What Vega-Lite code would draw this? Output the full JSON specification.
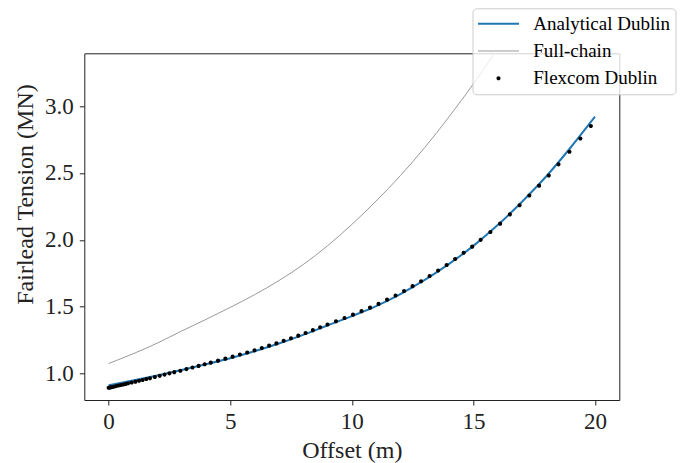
{
  "$schema": "https://vega.github.io/schema/vega-lite/v6.json",
  "width": 535,
  "height": 346.7,
  "autosize": {"type": "none"},
  "padding": {"left": 84.3, "top": 53.3, "right": 64.7, "bottom": 63},
  "background": "white",
  "config": {
    "font": "Liberation Serif",
    "view": {"stroke": "#222222", "strokeWidth": 1},
    "axis": {
      "grid": false,
      "domain": false,
      "tickColor": "#222222",
      "tickSize": 5,
      "tickWidth": 1,
      "labelFont": "Liberation Serif",
      "labelFontSize": 23,
      "labelColor": "#222222",
      "titleFont": "Liberation Serif",
      "titleFontSize": 24,
      "titleFontWeight": "normal",
      "titleColor": "#222222"
    },
    "legend": {
      "labelFont": "Liberation Serif",
      "labelFontSize": 19,
      "labelColor": "#000000",
      "labelOffset": 14.3,
      "padding": 5.5,
      "rowPadding": 7.2,
      "clipHeight": 20,
      "symbolSize": 1681,
      "symbolStrokeWidth": 0,
      "symbolOpacity": 1,
      "fillColor": "rgba(255,255,255,0.8)",
      "strokeColor": "#cccccc",
      "cornerRadius": 4
    }
  },
  "datasets": {
    "analytical": [
      {"offset": 0, "tension": 0.912},
      {"offset": 1, "tension": 0.948},
      {"offset": 2, "tension": 0.986},
      {"offset": 3, "tension": 1.027},
      {"offset": 4, "tension": 1.07},
      {"offset": 5, "tension": 1.115},
      {"offset": 6, "tension": 1.167},
      {"offset": 7, "tension": 1.225},
      {"offset": 8, "tension": 1.29},
      {"offset": 9, "tension": 1.36},
      {"offset": 10, "tension": 1.43},
      {"offset": 11, "tension": 1.505},
      {"offset": 12, "tension": 1.595},
      {"offset": 13, "tension": 1.7},
      {"offset": 14, "tension": 1.82},
      {"offset": 15, "tension": 1.955},
      {"offset": 16, "tension": 2.11},
      {"offset": 17, "tension": 2.285},
      {"offset": 18, "tension": 2.475},
      {"offset": 19, "tension": 2.69},
      {"offset": 20, "tension": 2.92}
    ],
    "fullchain": [
      {"offset": 0, "tension": 1.076},
      {"offset": 1, "tension": 1.148},
      {"offset": 2, "tension": 1.228},
      {"offset": 3, "tension": 1.318},
      {"offset": 4, "tension": 1.405},
      {"offset": 5, "tension": 1.495},
      {"offset": 6, "tension": 1.59},
      {"offset": 7, "tension": 1.695},
      {"offset": 8, "tension": 1.815},
      {"offset": 9, "tension": 1.955},
      {"offset": 10, "tension": 2.115},
      {"offset": 11, "tension": 2.29},
      {"offset": 12, "tension": 2.48},
      {"offset": 13, "tension": 2.69},
      {"offset": 14, "tension": 2.92},
      {"offset": 15, "tension": 3.165},
      {"offset": 16, "tension": 3.43},
      {"offset": 17, "tension": 3.71}
    ],
    "flexcom": [
      {"offset": 0, "tension": 0.894, "series": "Flexcom Dublin"},
      {"offset": 0.05, "tension": 0.896, "series": "Flexcom Dublin"},
      {"offset": 0.1, "tension": 0.898, "series": "Flexcom Dublin"},
      {"offset": 0.15, "tension": 0.9, "series": "Flexcom Dublin"},
      {"offset": 0.2, "tension": 0.902, "series": "Flexcom Dublin"},
      {"offset": 0.3, "tension": 0.907, "series": "Flexcom Dublin"},
      {"offset": 0.4, "tension": 0.911, "series": "Flexcom Dublin"},
      {"offset": 0.5, "tension": 0.915, "series": "Flexcom Dublin"},
      {"offset": 0.6, "tension": 0.919, "series": "Flexcom Dublin"},
      {"offset": 0.7, "tension": 0.923, "series": "Flexcom Dublin"},
      {"offset": 0.8, "tension": 0.928, "series": "Flexcom Dublin"},
      {"offset": 0.95, "tension": 0.934, "series": "Flexcom Dublin"},
      {"offset": 1.1, "tension": 0.94, "series": "Flexcom Dublin"},
      {"offset": 1.25, "tension": 0.947, "series": "Flexcom Dublin"},
      {"offset": 1.4, "tension": 0.953, "series": "Flexcom Dublin"},
      {"offset": 1.55, "tension": 0.96, "series": "Flexcom Dublin"},
      {"offset": 1.7, "tension": 0.966, "series": "Flexcom Dublin"},
      {"offset": 1.9, "tension": 0.975, "series": "Flexcom Dublin"},
      {"offset": 2.1, "tension": 0.984, "series": "Flexcom Dublin"},
      {"offset": 2.3, "tension": 0.993, "series": "Flexcom Dublin"},
      {"offset": 2.5, "tension": 1.002, "series": "Flexcom Dublin"},
      {"offset": 2.7, "tension": 1.011, "series": "Flexcom Dublin"},
      {"offset": 2.95, "tension": 1.022, "series": "Flexcom Dublin"},
      {"offset": 3.2, "tension": 1.034, "series": "Flexcom Dublin"},
      {"offset": 3.45, "tension": 1.046, "series": "Flexcom Dublin"},
      {"offset": 3.7, "tension": 1.058, "series": "Flexcom Dublin"},
      {"offset": 3.95, "tension": 1.07, "series": "Flexcom Dublin"},
      {"offset": 4.2, "tension": 1.082, "series": "Flexcom Dublin"},
      {"offset": 4.5, "tension": 1.097, "series": "Flexcom Dublin"},
      {"offset": 4.8, "tension": 1.112, "series": "Flexcom Dublin"},
      {"offset": 5.1, "tension": 1.127, "series": "Flexcom Dublin"},
      {"offset": 5.4, "tension": 1.143, "series": "Flexcom Dublin"},
      {"offset": 5.7, "tension": 1.158, "series": "Flexcom Dublin"},
      {"offset": 6.0, "tension": 1.174, "series": "Flexcom Dublin"},
      {"offset": 6.3, "tension": 1.191, "series": "Flexcom Dublin"},
      {"offset": 6.6, "tension": 1.209, "series": "Flexcom Dublin"},
      {"offset": 6.9, "tension": 1.226, "series": "Flexcom Dublin"},
      {"offset": 7.2, "tension": 1.245, "series": "Flexcom Dublin"},
      {"offset": 7.5, "tension": 1.265, "series": "Flexcom Dublin"},
      {"offset": 7.8, "tension": 1.284, "series": "Flexcom Dublin"},
      {"offset": 8.1, "tension": 1.304, "series": "Flexcom Dublin"},
      {"offset": 8.4, "tension": 1.325, "series": "Flexcom Dublin"},
      {"offset": 8.7, "tension": 1.346, "series": "Flexcom Dublin"},
      {"offset": 9.0, "tension": 1.367, "series": "Flexcom Dublin"},
      {"offset": 9.35, "tension": 1.392, "series": "Flexcom Dublin"},
      {"offset": 9.7, "tension": 1.416, "series": "Flexcom Dublin"},
      {"offset": 10.05, "tension": 1.441, "series": "Flexcom Dublin"},
      {"offset": 10.4, "tension": 1.467, "series": "Flexcom Dublin"},
      {"offset": 10.75, "tension": 1.493, "series": "Flexcom Dublin"},
      {"offset": 11.1, "tension": 1.521, "series": "Flexcom Dublin"},
      {"offset": 11.45, "tension": 1.553, "series": "Flexcom Dublin"},
      {"offset": 11.8, "tension": 1.584, "series": "Flexcom Dublin"},
      {"offset": 12.15, "tension": 1.618, "series": "Flexcom Dublin"},
      {"offset": 12.5, "tension": 1.654, "series": "Flexcom Dublin"},
      {"offset": 12.85, "tension": 1.69, "series": "Flexcom Dublin"},
      {"offset": 13.2, "tension": 1.73, "series": "Flexcom Dublin"},
      {"offset": 13.55, "tension": 1.771, "series": "Flexcom Dublin"},
      {"offset": 13.9, "tension": 1.812, "series": "Flexcom Dublin"},
      {"offset": 14.25, "tension": 1.857, "series": "Flexcom Dublin"},
      {"offset": 14.6, "tension": 1.903, "series": "Flexcom Dublin"},
      {"offset": 14.95, "tension": 1.949, "series": "Flexcom Dublin"},
      {"offset": 15.3, "tension": 2.0, "series": "Flexcom Dublin"},
      {"offset": 15.7, "tension": 2.059, "series": "Flexcom Dublin"},
      {"offset": 16.1, "tension": 2.121, "series": "Flexcom Dublin"},
      {"offset": 16.5, "tension": 2.19, "series": "Flexcom Dublin"},
      {"offset": 16.9, "tension": 2.258, "series": "Flexcom Dublin"},
      {"offset": 17.3, "tension": 2.331, "series": "Flexcom Dublin"},
      {"offset": 17.7, "tension": 2.405, "series": "Flexcom Dublin"},
      {"offset": 18.1, "tension": 2.481, "series": "Flexcom Dublin"},
      {"offset": 18.5, "tension": 2.564, "series": "Flexcom Dublin"},
      {"offset": 18.95, "tension": 2.658, "series": "Flexcom Dublin"},
      {"offset": 19.4, "tension": 2.757, "series": "Flexcom Dublin"},
      {"offset": 19.83, "tension": 2.851, "series": "Flexcom Dublin"}
    ]
  },
  "layer": [
    {
      "data": {"name": "analytical"},
      "mark": {"type": "line", "color": "#1f77b4", "strokeWidth": 2, "interpolate": "monotone", "clip": true},
      "encoding": {
        "x": {
          "field": "offset",
          "type": "quantitative",
          "scale": {"domain": [-1, 21], "nice": false, "zero": false},
          "axis": {
            "title": "Offset (m)",
            "values": [0, 5, 10, 15, 20],
            "format": "d",
            "labelPadding": 5,
            "titleBaseline": "alphabetic",
            "titleY": 57.5
          }
        },
        "y": {
          "field": "tension",
          "type": "quantitative",
          "scale": {"domain": [0.803, 3.394], "nice": false, "zero": false},
          "axis": {
            "title": "Fairlead Tension (MN)",
            "values": [1, 1.5, 2, 2.5, 3],
            "format": ".1f",
            "labelPadding": 6,
            "titleAngle": 270,
            "titleX": -52,
            "titleY": 140.7,
            "titleAlign": "center",
            "titleBaseline": "alphabetic"
          }
        }
      }
    },
    {
      "data": {"name": "fullchain"},
      "mark": {"type": "line", "color": "#999999", "strokeWidth": 1, "interpolate": "monotone", "clip": true},
      "encoding": {
        "x": {"field": "offset", "type": "quantitative"},
        "y": {"field": "tension", "type": "quantitative"}
      }
    },
    {
      "data": {"name": "flexcom"},
      "mark": {"type": "point", "filled": true, "size": 1681, "opacity": 1, "clip": true},
      "encoding": {
        "x": {"field": "offset", "type": "quantitative"},
        "y": {"field": "tension", "type": "quantitative"},
        "color": {
          "field": "series",
          "type": "nominal",
          "scale": {
            "domain": ["Analytical Dublin", "Full-chain", "Flexcom Dublin"],
            "range": ["#1f77b4", "#999999", "#000000"]
          },
          "legend": {
            "title": null,
            "orient": "none",
            "legendX": 388.2,
            "legendY": -45,
            "labelExpr": "datum.label + '\u00a0\u00a0\u00a0'"
          }
        },
        "shape": {
          "field": "series",
          "type": "nominal",
          "scale": {
            "domain": ["Analytical Dublin", "Full-chain", "Flexcom Dublin"],
            "range": [
              "M-1,-0.05H1V0.05H-1Z",
              "M-1,-0.025H1V0.025H-1Z",
              "M0.1,0A0.1,0.1,0,1,1,-0.1,0A0.1,0.1,0,1,1,0.1,0Z"
            ]
          },
          "legend": {
            "title": null,
            "orient": "none",
            "legendX": 388.2,
            "legendY": -45,
            "labelExpr": "datum.label + '\u00a0\u00a0\u00a0'"
          }
        }
      }
    }
  ]
}
